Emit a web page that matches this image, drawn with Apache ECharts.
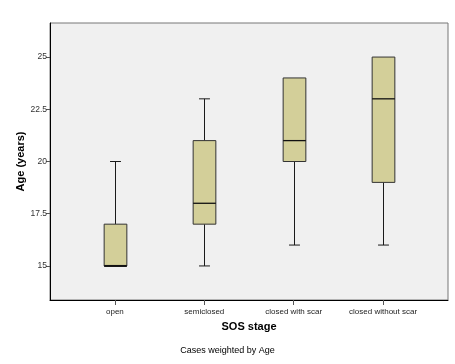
<!DOCTYPE html>
<html>
<head>
<meta charset="utf-8">
<script src="https://cdn.jsdelivr.net/npm/echarts@6/dist/echarts.min.js"></script>
<style>
html,body{margin:0;padding:0;background:#fff;}
#chart{width:455px;height:364px;}
</style>
</head>
<body>
<div id="chart"></div>
<script>
// Data
var categories = ['open', 'semiclosed', 'closed with scar', 'closed without scar'];
var minValues = [15, 15, 16, 16];
var q1Values = [15, 17, 20, 19];
var medianValues = [15, 18, 21, 23];
var q3Values = [17, 21, 24, 25];
var maxValues = [20, 23, 24, 25];
var yTicks = [15, 17.5, 20, 22.5, 25];
var xTitle = 'SOS stage';
var yTitle = 'Age (years)';
var footnote = 'Cases weighted by Age';

var boxData = categories.map(function (c, i) {
  return [i + 1, minValues[i], q1Values[i], medianValues[i], q3Values[i], maxValues[i]];
});

var chart = echarts.init(document.getElementById('chart'), null, {renderer: 'canvas'});

function renderBox(params, api) {
  var x = api.value(0);
  var vMin = api.value(1), vQ1 = api.value(2), vMed = api.value(3), vQ3 = api.value(4), vMax = api.value(5);
  var pMin = api.coord([x, vMin]);
  var pQ1 = api.coord([x, vQ1]);
  var pMed = api.coord([x, vMed]);
  var pQ3 = api.coord([x, vQ3]);
  var pMax = api.coord([x, vMax]);
  var boxW = api.size([0.254, 0])[0];
  var capW = api.size([0.122, 0])[0];
  var cx = Math.round(pMed[0]) + 0.5;
  var children = [];
  var lineStyle = {stroke: '#1a1a1a', lineWidth: 1};
  if (vMax > vQ3) {
    children.push({type: 'line', shape: {x1: cx, y1: pQ3[1], x2: cx, y2: pMax[1]}, style: lineStyle});
    children.push({type: 'line', shape: {x1: cx - capW / 2, y1: pMax[1], x2: cx + capW / 2, y2: pMax[1]}, style: lineStyle});
  }
  if (vMin < vQ1) {
    children.push({type: 'line', shape: {x1: cx, y1: pQ1[1], x2: cx, y2: pMin[1]}, style: lineStyle});
    children.push({type: 'line', shape: {x1: cx - capW / 2, y1: pMin[1], x2: cx + capW / 2, y2: pMin[1]}, style: lineStyle});
  }
  children.push({
    type: 'rect',
    shape: {x: cx - boxW / 2, y: pQ3[1], width: boxW, height: pQ1[1] - pQ3[1]},
    style: {fill: '#d3cf99', stroke: '#333333', lineWidth: 1}
  });
  children.push({
    type: 'line',
    shape: {x1: cx - boxW / 2, y1: pMed[1], x2: cx + boxW / 2, y2: pMed[1]},
    style: {stroke: '#111', lineWidth: vMed === vQ1 ? 2 : 1.3}
  });
  return {type: 'group', children: children};
}

var option = {
  animation: false,
  backgroundColor: '#ffffff',
  grid: {
    left: 50, top: 23, right: 7, bottom: 64,
    show: true, backgroundColor: '#f0f0f0', borderColor: '#777777', borderWidth: 1
  },
  xAxis: {
    type: 'value',
    min: 0.274, max: 4.726,
    name: xTitle,
    nameLocation: 'middle',
    nameGap: 21,
    nameMoveOverlap: false,
    nameTextStyle: {fontFamily: 'Liberation Sans', fontSize: 11, fontWeight: 'bold', color: '#000'},
    axisLine: {show: true, lineStyle: {color: '#000', width: 1}},
    axisTick: {show: true, length: 5, customValues: [1, 2, 3, 4], lineStyle: {color: '#555'}},
    axisLabel: {
      customValues: [1, 2, 3, 4],
      margin: 8,
      fontFamily: 'Liberation Sans', fontSize: 8, color: '#222',
      formatter: function (v) { return categories[Math.round(v) - 1] || ''; }
    },
    splitLine: {show: false}
  },
  yAxis: {
    type: 'value',
    min: 13.37, max: 26.63,
    name: yTitle,
    nameLocation: 'middle',
    nameGap: 24,
    nameMoveOverlap: false,
    nameTextStyle: {fontFamily: 'Liberation Sans', fontSize: 11, fontWeight: 'bold', color: '#000'},
    axisLine: {show: true, lineStyle: {color: '#000', width: 1}},
    axisTick: {show: true, length: 4, customValues: yTicks, lineStyle: {color: '#555'}},
    axisLabel: {
      customValues: yTicks,
      margin: 3,
      fontFamily: 'Liberation Sans', fontSize: 8.5, color: '#333',
      formatter: function (v) { return String(v); }
    },
    splitLine: {show: false}
  },
  graphic: [{
    type: 'text',
    left: 'center',
    top: 346,
    style: {text: footnote, fontFamily: 'Liberation Sans', fontSize: 9, fill: '#000'}
  }],
  series: [{
    type: 'custom',
    renderItem: renderBox,
    encode: {x: 0, y: [1, 2, 3, 4, 5]},
    data: boxData,
    clip: false
  }]
};
chart.setOption(option);
</script>
</body>
</html>
